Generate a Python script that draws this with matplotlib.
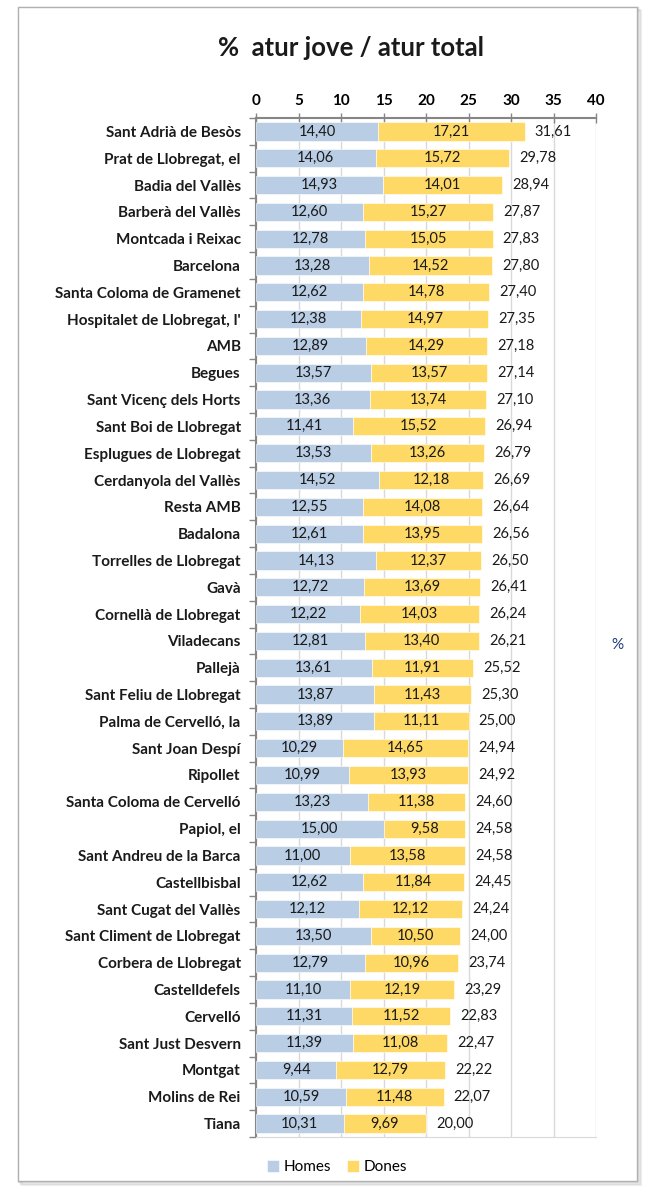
import matplotlib.pyplot as plt
import numpy as np
from matplotlib.patches import Rectangle

plt.rcParams['font.family'] = ['Lato', 'DejaVu Sans']

municipis = ["Sant Adrià de Besòs", "Prat de Llobregat, el", "Badia del Vallès",
             "Barberà del Vallès", "Montcada i Reixac", "Barcelona",
             "Santa Coloma de Gramenet", "Hospitalet de Llobregat, l'", "AMB",
             "Begues", "Sant Vicenç dels Horts", "Sant Boi de Llobregat",
             "Esplugues de Llobregat", "Cerdanyola del Vallès", "Resta AMB",
             "Badalona", "Torrelles de Llobregat", "Gavà", "Cornellà de Llobregat",
             "Viladecans", "Pallejà", "Sant Feliu de Llobregat",
             "Palma de Cervelló, la", "Sant Joan Despí", "Ripollet",
             "Santa Coloma de Cervelló", "Papiol, el", "Sant Andreu de la Barca",
             "Castellbisbal", "Sant Cugat del Vallès", "Sant Climent de Llobregat",
             "Corbera de Llobregat", "Castelldefels", "Cervelló",
             "Sant Just Desvern", "Montgat", "Molins de Rei", "Tiana"]
homes = [14.40, 14.06, 14.93, 12.60, 12.78, 13.28, 12.62, 12.38, 12.89, 13.57,
         13.36, 11.41, 13.53, 14.52, 12.55, 12.61, 14.13, 12.72, 12.22, 12.81,
         13.61, 13.87, 13.89, 10.29, 10.99, 13.23, 15.00, 11.00, 12.62, 12.12,
         13.50, 12.79, 11.10, 11.31, 11.39, 9.44, 10.59, 10.31]
dones = [17.21, 15.72, 14.01, 15.27, 15.05, 14.52, 14.78, 14.97, 14.29, 13.57,
         13.74, 15.52, 13.26, 12.18, 14.08, 13.95, 12.37, 13.69, 14.03, 13.40,
         11.91, 11.43, 11.11, 14.65, 13.93, 11.38, 9.58, 13.58, 11.84, 12.12,
         10.50, 10.96, 12.19, 11.52, 11.08, 12.79, 11.48, 9.69]
totals = [31.61, 29.78, 28.94, 27.87, 27.83, 27.80, 27.40, 27.35, 27.18, 27.14,
          27.10, 26.94, 26.79, 26.69, 26.64, 26.56, 26.50, 26.41, 26.24, 26.21,
          25.52, 25.30, 25.00, 24.94, 24.92, 24.60, 24.58, 24.58, 24.45, 24.24,
          24.00, 23.74, 23.29, 22.83, 22.47, 22.22, 22.07, 20.00]

c_homes = '#B9CDE5'
c_dones = '#FFD966'

def fmt(v):
    return f"{v:.2f}".replace('.', ',')

fig = plt.figure(figsize=(6.53, 11.89), dpi=100)

# chart frame with a soft shadow
for i, a in enumerate([0.10, 0.18, 0.28]):
    d = (3 - i) * 0.0022
    fig.patches.append(Rectangle((18/653 + d, 8/1189 - d*0.55), 619/653, 1174/1189,
                                 transform=fig.transFigure, facecolor='none',
                                 edgecolor='#888888', alpha=a, lw=1.6, zorder=0))
fig.patches.append(Rectangle((18/653, 8/1189), 619/653, 1174/1189,
                             transform=fig.transFigure, facecolor='white',
                             edgecolor='#B0B0B0', lw=1.0, zorder=1))

ax = fig.add_axes([256/653, 1 - 1137/1189, 340/653, (1137 - 118)/1189])
ax.set_zorder(2)
ax.patch.set_alpha(0)

y = np.arange(len(municipis))
h = 0.68
ax.barh(y, homes, height=h, color=c_homes, edgecolor='white', lw=0.4, label='Homes', zorder=3)
ax.barh(y, dones, left=homes, height=h, color=c_dones, edgecolor='white', lw=0.4, label='Dones', zorder=3)

for i in range(len(municipis)):
    ax.text(homes[i] / 2, y[i], fmt(homes[i]), ha='center', va='center', fontsize=10.5, color='#1a1a1a', zorder=4)
    ax.text(homes[i] + dones[i] / 2, y[i], fmt(dones[i]), ha='center', va='center', fontsize=10.5, color='#1a1a1a', zorder=4)
    ax.text(totals[i] + 1.2, y[i], fmt(totals[i]), ha='left', va='center', fontsize=10.5, color='#1a1a1a', zorder=4)

ax.set_xlim(0, 40)
ax.set_ylim(len(municipis) - 0.5, -0.5)
ax.set_xticks(np.arange(0, 41, 5))
ax.xaxis.tick_top()
ax.tick_params(axis='x', direction='inout', length=7, width=1, color='#868686',
               labelsize=11, pad=4)
for lbl in ax.get_xticklabels():
    lbl.set_fontweight('bold')
ax.grid(axis='x', color='#D9D9D9', lw=1, zorder=0)

ax.set_yticks(y)
ax.set_yticklabels(municipis, fontweight='bold', fontsize=11, color='#1a1a1a')
ax.set_yticks(np.arange(-0.5, len(municipis), 1), minor=True)
ax.tick_params(axis='y', which='major', length=0, pad=11)
ax.tick_params(axis='y', which='minor', direction='out', length=5, width=1, color='#868686')

for s in ['top', 'left']:
    ax.spines[s].set_color('#868686')
    ax.spines[s].set_linewidth(1.5)
ax.spines['bottom'].set_color('#D9D9D9')
ax.spines['right'].set_visible(False)

fig.text(617/653, 1 - 645/1189, '%', ha='center', va='center', fontsize=11, color='#1F3A7A')
fig.text(351/653, 1 - 48/1189, '%  atur jove / atur total', ha='center', va='center',
         fontsize=18.5, fontweight='bold', color='#1a1a1a')

fig.legend(loc='center', bbox_to_anchor=(337/653, 1 - 1167/1189), ncol=2, frameon=False,
           fontsize=11, handlelength=0.8, handleheight=0.8, handletextpad=0.3, columnspacing=1.0)

fig.savefig('out.png', dpi=100)
